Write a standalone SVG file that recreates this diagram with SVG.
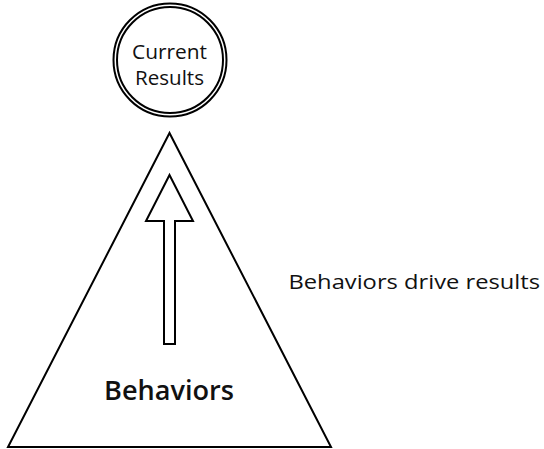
<svg xmlns="http://www.w3.org/2000/svg" width="544" height="449" viewBox="0 0 544 449">
<style>
.ln{fill:none;stroke:#000;stroke-width:2}
.t{font-family:"Open Sans","Liberation Sans",sans-serif;fill:#111}
</style>
<rect width="544" height="449" fill="#fff"/>
<g id="behaviors">
<polygon class="ln" points="169.5,133 8,447 331,447"/>
<text class="t" x="104" y="400" font-size="26.5" font-weight="600" textLength="130" lengthAdjust="spacingAndGlyphs">Behaviors</text>
</g>
<g id="current-results">
<circle class="ln" cx="170" cy="60" r="56.5" stroke-width="1.8"/>
<circle class="ln" cx="170" cy="60" r="53" stroke-width="1.8"/>
<text class="t" x="132" y="58.7" font-size="20" textLength="75" lengthAdjust="spacingAndGlyphs">Current</text>
<text class="t" x="135" y="84.7" font-size="20" textLength="69" lengthAdjust="spacingAndGlyphs">Results</text>
</g>
<g id="connectors">
<polygon class="ln" points="169.5,175 193,221 175,221 175,344 164,344 164,221 146,221"/>
</g>
<g id="label">
<text class="t" x="288.5" y="289" font-size="19.5" textLength="251.5" lengthAdjust="spacingAndGlyphs">Behaviors drive results</text>
</g>
</svg>
